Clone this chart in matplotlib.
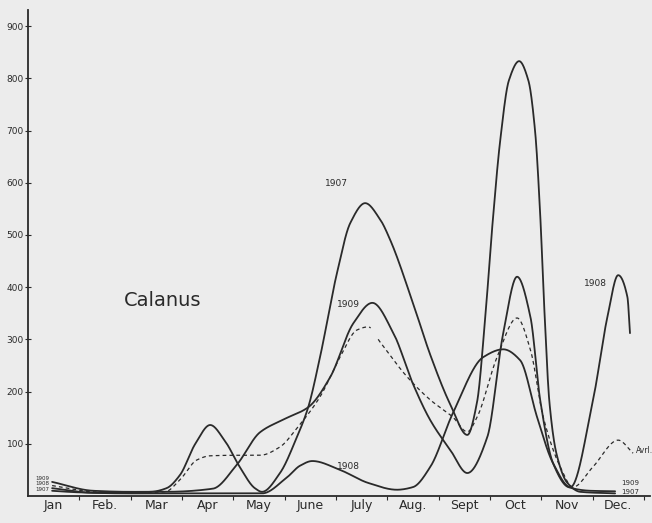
import numpy as np
import matplotlib
matplotlib.use("Agg")
import matplotlib.pyplot as plt

# ---- data (x in month units: Jan centre = 0.5, Dec centre = 11.5) ----
months = ["Jan", "Feb.", "Mar", "Apr", "May", "June", "July", "Aug.", "Sept", "Oct", "Nov", "Dec."]
yticks = [100, 200, 300, 400, 500, 600, 700, 800, 900]

t1907 = [0.47, 1.0, 1.6, 2.4, 2.7, 2.96, 3.26, 3.55, 3.84, 4.13, 4.42, 4.56, 4.91, 5.24, 5.46,
         5.69, 6.02, 6.28, 6.57, 6.86, 7.06, 7.5, 7.84, 8.23, 8.56, 8.75, 8.9, 9.05, 9.2,
         9.37, 9.57, 9.75, 9.88, 9.98, 10.06, 10.16, 10.3, 10.51, 10.76, 11.44]
v1907 = [10, 7, 6, 8, 15, 40, 100, 136, 105, 55, 15, 8, 44, 113, 170,
         266, 427, 523, 561, 530, 490, 370, 270, 175, 117, 180, 330, 520, 680,
         796, 833, 796, 700, 540, 360, 180, 80, 25, 8, 5]

t1909 = [0.47, 1.27, 2.0, 2.67, 3.6, 4.07, 4.52, 5.01, 5.46, 5.89, 6.34, 6.71, 7.12, 7.5,
         7.84, 8.23, 8.56, 8.95, 9.26, 9.53, 9.79, 9.98, 10.23, 10.53, 10.96, 11.44]
v1909 = [27, 10, 8, 8, 14, 60, 122, 148, 170, 228, 331, 370, 312, 215,
         145, 88, 44, 113, 312, 420, 343, 184, 63, 17, 10, 9]

t1908 = [0.47, 1.27, 2.0, 2.77, 3.55, 4.56, 5.05, 5.3, 5.54, 6.08, 6.63, 7.19, 7.5, 7.84,
         8.28, 8.87, 9.26, 9.59, 9.92, 10.23, 10.57, 11.01, 11.29, 11.5, 11.68, 11.73]
v1908 = [15, 6, 5, 5, 5, 5, 36, 58, 67, 50, 25, 12, 17, 56,
         159, 266, 281, 260, 151, 63, 17, 184, 343, 423, 381, 312]

tavg = [0.47, 1.27, 2.0, 2.67, 2.96, 3.29, 3.55, 4.04, 4.52, 4.91, 5.24, 5.69, 6.08, 6.41,
        6.63, 6.86, 7.39, 7.84, 8.28, 8.56, 8.75, 9.14, 9.53, 9.79, 10.04, 10.37, 10.62,
        11.01, 11.5, 11.79]
vavg = [20, 8, 6, 8, 31, 69, 77, 78, 78, 94, 130, 190, 266, 318,
        324, 295, 228, 184, 151, 123, 151, 266, 341, 280, 151, 56, 17,
        56, 107, 82]


def pchip(x, y, xs):
    x = np.asarray(x, float); y = np.asarray(y, float)
    h = np.diff(x); d = np.diff(y) / h
    n = len(x); m = np.zeros(n)
    for k in range(1, n - 1):
        if d[k - 1] * d[k] > 0:
            w1 = 2 * h[k] + h[k - 1]; w2 = h[k] + 2 * h[k - 1]
            m[k] = (w1 + w2) / (w1 / d[k - 1] + w2 / d[k])
    m[0] = d[0]; m[-1] = d[-1]
    idx = np.clip(np.searchsorted(x, xs) - 1, 0, n - 2)
    hh = h[idx]; s = (xs - x[idx]) / hh
    h00 = 2 * s**3 - 3 * s**2 + 1; h10 = s**3 - 2 * s**2 + s
    h01 = -2 * s**3 + 3 * s**2; h11 = s**3 - s**2
    return h00 * y[idx] + h10 * hh * m[idx] + h01 * y[idx + 1] + h11 * hh * m[idx + 1]


bg = "#ececec"
fig = plt.figure(figsize=(6.52, 5.23), dpi=100, facecolor=bg)
ax = fig.add_axes([28 / 652, 27 / 523, 622 / 652, 486 / 523])
ax.set_facecolor(bg)

ink = "#2a2a2a"
for t, v in [(t1907, v1907), (t1909, v1909), (t1908, v1908)]:
    xs = np.linspace(t[0], t[-1], 2000)
    ax.plot(xs, pchip(t, v, xs), color=ink, lw=1.3, solid_capstyle="round")

xs = np.linspace(tavg[0], tavg[-1], 2000)
ya = pchip(tavg, vavg, xs)
ya[(xs > 6.68) & (xs < 6.82)] = np.nan
ax.plot(xs, ya, color=ink, lw=0.9, linestyle=(0, (3, 2.5)))

ax.set_xlim(0, 12.12)
ax.set_ylim(0, 931)
for s in ["top", "right"]:
    ax.spines[s].set_visible(False)
for s in ["left", "bottom"]:
    ax.spines[s].set_color(ink)
    ax.spines[s].set_linewidth(1.3)

ax.set_yticks(yticks)
ax.set_yticklabels([str(v) for v in yticks], fontsize=6.5, color=ink)
ax.tick_params(axis="y", direction="inout", length=4, pad=1, width=0.8, colors=ink)

ax.set_xticks(np.arange(1, 13))
ax.set_xticklabels([])
ax.set_xticks(np.arange(12) + 0.5, minor=True)
ax.set_xticklabels(months, minor=True, fontsize=9, color=ink)
ax.tick_params(axis="x", which="major", direction="out", length=3, width=0.8, colors=ink)
ax.tick_params(axis="x", which="minor", length=0, pad=2)

ax.text(2.62, 375, "Calanus", fontsize=14, color=ink, ha="center", va="center")
ax.text(6.02, 598, "1907", fontsize=6.5, color=ink, ha="center", va="center")
ax.text(6.24, 366, "1909", fontsize=6.5, color=ink, ha="center", va="center")
ax.text(6.24, 56, "1908", fontsize=6.5, color=ink, ha="center", va="center")
ax.text(11.05, 408, "1908", fontsize=6.5, color=ink, ha="center", va="center")
ax.text(11.85, 88, "Avrl.", fontsize=5.5, color=ink, ha="left", va="center")
ax.text(11.55, 24, "1909", fontsize=5, color=ink, ha="left", va="center")
ax.text(11.55, 7, "1907", fontsize=5, color=ink, ha="left", va="center")
ax.text(0.42, 34, "1909", fontsize=4, color=ink, ha="right", va="center")
ax.text(0.42, 23, "1908", fontsize=4, color=ink, ha="right", va="center")
ax.text(0.42, 12, "1907", fontsize=4, color=ink, ha="right", va="center")

fig.savefig("out.png", dpi=100, facecolor=bg)
